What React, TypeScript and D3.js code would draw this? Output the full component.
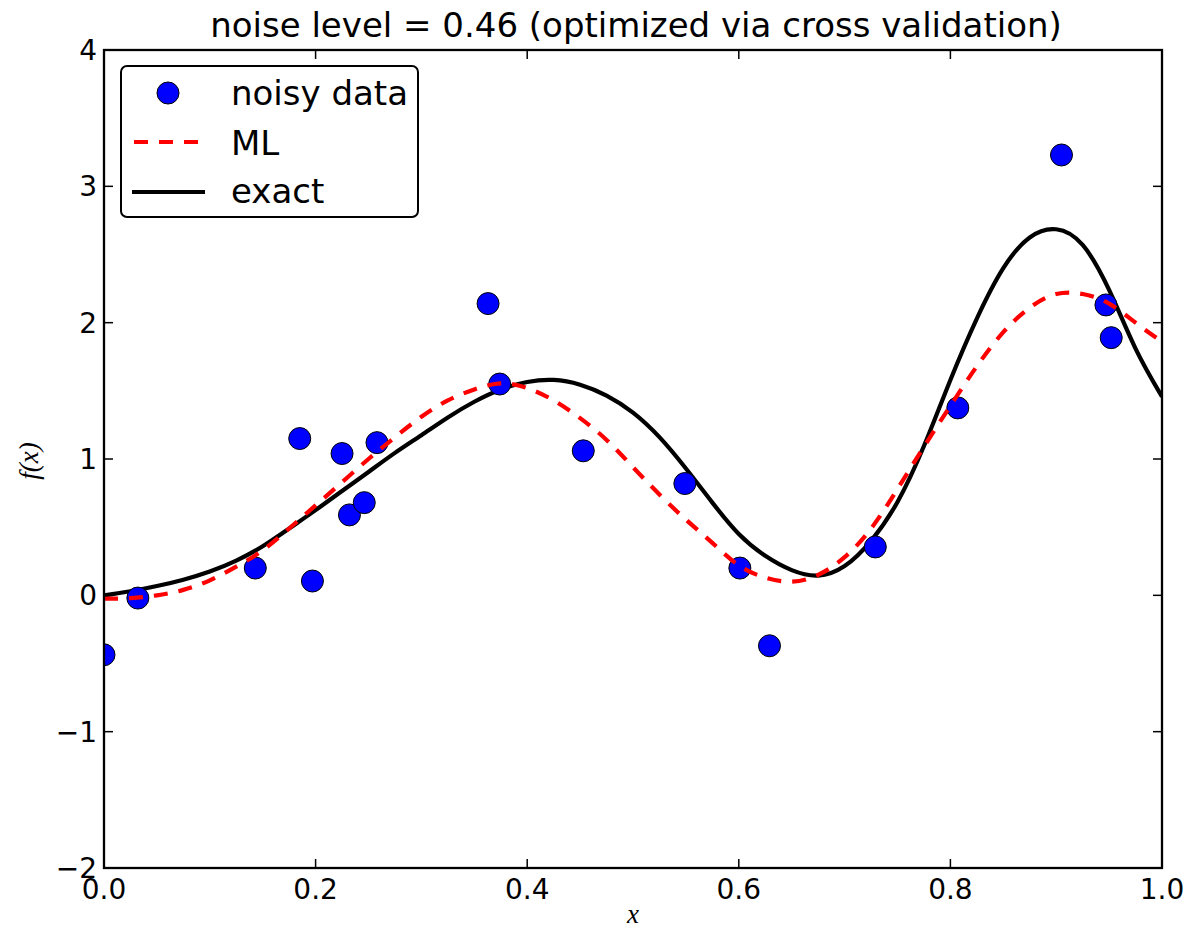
import React from "react";
import * as d3 from "d3";

const titleText = "noise level = 0.46 (optimized via cross validation)";

const xTicks = [0, 0.2, 0.4, 0.6, 0.8, 1.0];
const yTicks = [-2, -1, 0, 1, 2, 3, 4];

const dataX = [0.0, 0.032, 0.143, 0.185, 0.197, 0.225, 0.232, 0.246, 0.258, 0.363, 0.374, 0.453, 0.549, 0.601, 0.629, 0.729, 0.807, 0.905, 0.947, 0.952];
const dataY = [-0.436, -0.02, 0.2, 1.15, 0.105, 1.04, 0.59, 0.68, 1.12, 2.14, 1.55, 1.06, 0.82, 0.2, -0.37, 0.355, 1.375, 3.23, 2.13, 1.89];

const exactX = [0, 0.025, 0.05, 0.075, 0.1, 0.125, 0.15, 0.175, 0.2, 0.225, 0.25, 0.275, 0.3, 0.325, 0.35, 0.375, 0.4, 0.425, 0.45, 0.475, 0.5, 0.525, 0.55, 0.575, 0.6, 0.625, 0.65, 0.675, 0.7, 0.725, 0.75, 0.775, 0.8, 0.825, 0.85, 0.875, 0.9, 0.925, 0.95, 0.975, 1.0];
const exactY = [0.0, 0.03, 0.068, 0.115, 0.175, 0.255, 0.36, 0.49, 0.625, 0.765, 0.905, 1.045, 1.175, 1.305, 1.42, 1.51, 1.565, 1.58, 1.545, 1.465, 1.34, 1.16, 0.93, 0.68, 0.45, 0.29, 0.185, 0.145, 0.215, 0.40, 0.685, 1.095, 1.58, 2.03, 2.40, 2.625, 2.685, 2.57, 2.24, 1.81, 1.457];

const mlX = [0, 0.025, 0.05, 0.075, 0.1, 0.125, 0.15, 0.175, 0.2, 0.225, 0.25, 0.275, 0.3, 0.325, 0.35, 0.375, 0.4, 0.425, 0.45, 0.475, 0.5, 0.525, 0.55, 0.575, 0.6, 0.625, 0.65, 0.675, 0.7, 0.725, 0.75, 0.775, 0.8, 0.825, 0.85, 0.875, 0.9, 0.925, 0.95, 0.975, 1.0];
const mlY = [-0.025, -0.02, 0.0, 0.04, 0.11, 0.21, 0.33, 0.49, 0.66, 0.83, 1.0, 1.16, 1.31, 1.43, 1.51, 1.555, 1.52, 1.43, 1.30, 1.14, 0.94, 0.74, 0.555, 0.385, 0.22, 0.13, 0.10, 0.15, 0.28, 0.49, 0.78, 1.09, 1.39, 1.68, 1.93, 2.11, 2.21, 2.21, 2.14, 2.0, 1.86];

const legendLabels = ["noisy data", "ML", "exact"];

const W = 1192;
const H = 928;
const L = 104;
const R = 1162;
const T = 50;
const B = 868;

const FONT = "'DejaVu Sans', sans-serif";

export default function App() {
  const x = d3.scaleLinear().domain([0, 1]).range([L, R]);
  const y = d3.scaleLinear().domain([-2, 4]).range([B, T]);

  const line = d3
    .line<[number, number]>()
    .x((d) => x(d[0]))
    .y((d) => y(d[1]))
    .curve(d3.curveNatural);

  const exactPath = line(exactX.map((v, i) => [v, exactY[i]] as [number, number])) || "";
  const mlPath = line(mlX.map((v, i) => [v, mlY[i]] as [number, number])) || "";

  const tickLen = 9;
  const fmtX = (v: number) => v.toFixed(1);
  const fmtY = (v: number) => (v < 0 ? "\u2212" + Math.abs(v) : String(v));

  const legendRows = [105, 155, 203];
  const legendMid = [93, 142, 192];

  return (
    <svg
      width={W}
      height={H}
      style={{ position: "absolute", left: 0, top: 0, background: "#fff" }}
      xmlns="http://www.w3.org/2000/svg"
    >
      <defs>
        <clipPath id="plotClip">
          <rect x={L} y={T} width={R - L} height={B - T} />
        </clipPath>
      </defs>
      <rect x={0} y={0} width={W} height={H} fill="#fff" />

      <g clipPath="url(#plotClip)">
        <path d={exactPath} fill="none" stroke="#000" strokeWidth={4.2} strokeLinejoin="round" />
        {dataX.map((v, i) => (
          <circle key={i} cx={x(v)} cy={y(dataY[i])} r={11} fill="#0000ff" stroke="#000" strokeWidth={1} />
        ))}
        <path d={mlPath} fill="none" stroke="#ff0000" strokeWidth={4.2} strokeDasharray="14,11" />
      </g>

      {xTicks.map((t, i) => (
        <g key={"xt" + i}>
          <line x1={x(t)} x2={x(t)} y1={B} y2={B - tickLen} stroke="#000" strokeWidth={1.5} />
          <line x1={x(t)} x2={x(t)} y1={T} y2={T + tickLen} stroke="#000" strokeWidth={1.5} />
          <text x={x(t)} y={899} textAnchor="middle" fontFamily={FONT} fontSize={28} fill="#000">
            {fmtX(t)}
          </text>
        </g>
      ))}
      {yTicks.map((t, i) => (
        <g key={"yt" + i}>
          <line x1={L} x2={L + tickLen} y1={y(t)} y2={y(t)} stroke="#000" strokeWidth={1.5} />
          <line x1={R} x2={R - tickLen} y1={y(t)} y2={y(t)} stroke="#000" strokeWidth={1.5} />
          <text x={97} y={y(t) + 10} textAnchor="end" fontFamily={FONT} fontSize={28} fill="#000">
            {fmtY(t)}
          </text>
        </g>
      ))}

      <rect x={L} y={T} width={R - L} height={B - T} fill="none" stroke="#000" strokeWidth={2.3} />

      <text x={(L + R) / 2 + 3} y={37} textAnchor="middle" fontFamily={FONT} fontSize={34} fill="#000">
        {titleText}
      </text>

      <text x={(L + R) / 2} y={923} textAnchor="middle" fontFamily="'Liberation Serif', serif" fontStyle="italic" fontSize={27} fill="#000">
        x
      </text>
      <text
        transform={`translate(38, ${(T + B) / 2 + 2}) rotate(-90)`}
        textAnchor="middle"
        fontFamily="'Liberation Serif', serif"
        fontStyle="italic"
        fontSize={27}
        fill="#000"
      >
        f(x)
      </text>

      <rect x={121} y={66} width={297} height={151} rx={6} ry={6} fill="#fff" stroke="#000" strokeWidth={2} />
      <circle cx={168} cy={legendMid[0]} r={11} fill="#0000ff" stroke="#000" strokeWidth={1} />
      <line x1={134} x2={206} y1={legendMid[1]} y2={legendMid[1]} stroke="#ff0000" strokeWidth={4.2} strokeDasharray="14,11" />
      <line x1={132} x2={205} y1={legendMid[2]} y2={legendMid[2]} stroke="#000" strokeWidth={4.2} />
      {legendLabels.map((lab, i) => (
        <text key={lab} x={231} y={legendRows[i]} fontFamily={FONT} fontSize={34} fill="#000">
          {lab}
        </text>
      ))}
    </svg>
  );
}
